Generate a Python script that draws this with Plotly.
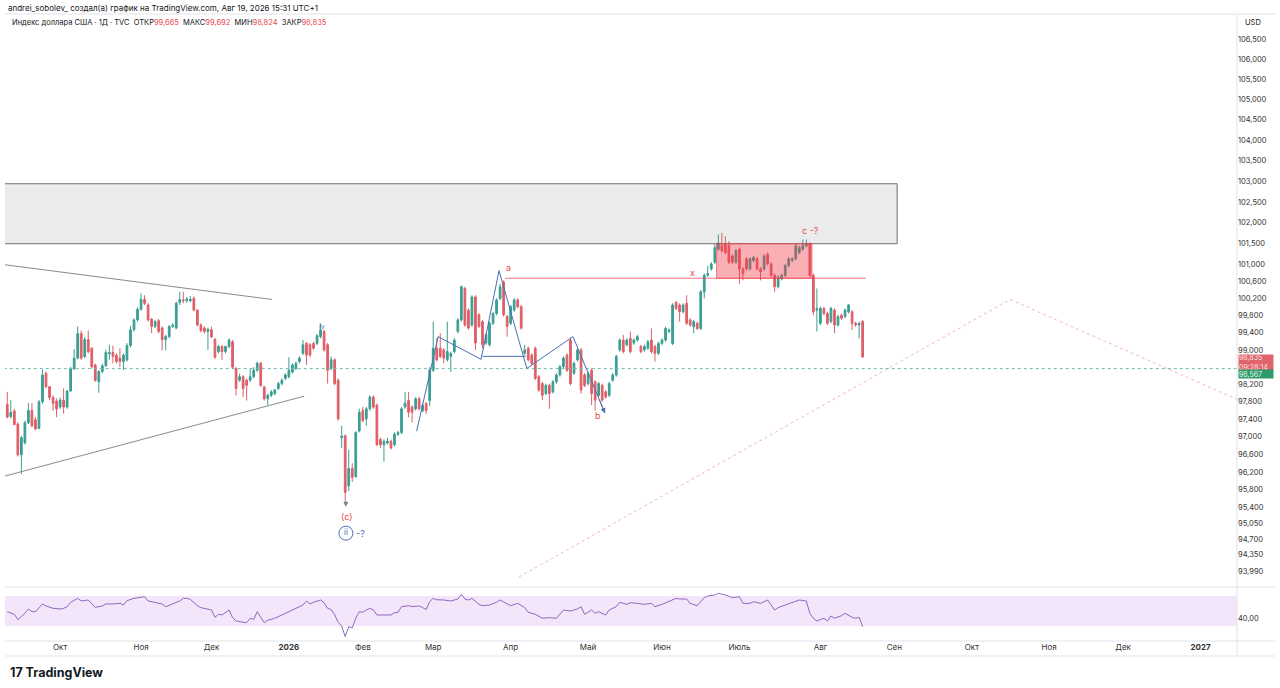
import math

import pandas as pd
import plotly.graph_objects as go

# TVC:DXY daily candles, Sep 10 2025 .. Aug 19 2026
opens = [
    97.74, 97.46, 97.59, 97.29, 96.59, 96.86, 97.32, 97.60, 97.39, 97.19,
    97.80, 98.46, 98.15, 97.90, 97.82, 97.68, 97.84, 97.68, 98.05, 98.57,
    98.81, 99.38, 98.85, 99.24, 99.04, 98.65, 98.26, 98.50, 98.63, 98.91,
    98.94, 98.88, 98.81, 98.73, 98.77, 99.10, 99.47, 99.70, 99.95, 100.18,
    100.05, 99.72, 99.55, 99.68, 99.51, 99.24, 99.31, 99.55, 99.51, 100.11,
    100.17, 100.15, 100.15, 100.21, 99.93, 99.58, 99.51, 99.43, 99.47, 99.25,
    98.96, 99.08, 98.96, 99.08, 99.19, 98.57, 98.30, 98.38, 98.30, 98.30,
    98.38, 98.53, 98.69, 98.14, 97.87, 97.95, 97.99, 98.11, 98.22, 98.34,
    98.38, 98.49, 98.57, 98.73, 98.92, 99.15, 99.12, 99.15, 99.15, 99.31,
    99.43, 99.12, 98.57, 98.77, 98.30, 96.98, 97.02, 95.89, 96.28, 96.10,
    97.13, 97.60, 97.41, 97.64, 97.91, 97.72, 96.94, 96.82, 96.86, 96.90,
    96.82, 97.06, 97.10, 97.68, 97.83, 97.68, 97.64, 97.87, 97.60, 97.76,
    97.83, 98.53, 99.04, 99.04, 99.00, 98.77, 98.85, 98.96, 99.43, 99.70,
    100.44, 99.93, 99.58, 100.24, 99.82, 99.66, 99.16, 99.12, 99.62, 99.85,
    100.20, 100.59, 99.78, 99.62, 99.93, 100.17, 100.01, 98.92, 99.04, 98.88,
    99.04, 98.38, 98.22, 97.99, 98.18, 98.03, 98.26, 98.42, 98.61, 98.88,
    99.23, 98.46, 98.77, 99.00, 98.42, 98.22, 98.53, 98.26, 97.95, 98.18,
    98.03, 97.95, 98.30, 98.42, 99.00, 99.23, 99.12, 99.27, 99.16, 99.23,
    99.08, 99.00, 99.04, 99.23, 99.08, 98.92, 99.15, 99.23, 99.43, 99.15,
    100.11, 100.05, 99.89, 100.09, 99.70, 99.54, 99.62, 99.50, 100.36, 100.75,
    100.90, 101.06, 101.37, 101.45, 101.49, 101.45, 101.21, 101.06, 101.37, 100.90,
    101.14, 100.90, 101.10, 101.14, 100.90, 100.90, 101.25, 101.02, 100.75, 100.48,
    100.67, 100.75, 100.98, 101.10, 101.14, 101.29, 101.37, 101.45, 101.49, 100.75,
    99.93, 99.62, 99.97, 99.85, 99.66, 99.93, 99.58, 99.81, 99.78, 99.89,
    99.89, 99.62, 99.58, 99.665,
]
highs = [
    98.03, 97.84, 97.64, 97.33, 97.02, 97.37, 97.77, 97.77, 97.45, 97.84,
    98.55, 98.50, 98.16, 97.95, 97.88, 97.90, 98.11, 98.07, 98.61, 99.02,
    99.55, 99.45, 99.30, 99.45, 99.06, 98.68, 98.53, 98.68, 99.00, 99.12,
    99.10, 98.92, 99.04, 98.92, 99.16, 99.55, 99.74, 99.99, 100.32, 100.28,
    100.09, 99.74, 99.70, 99.72, 99.55, 99.35, 99.58, 99.62, 100.13, 100.36,
    100.36, 100.24, 100.26, 100.25, 99.95, 99.62, 99.55, 99.52, 99.54, 99.27,
    99.12, 99.12, 99.10, 99.27, 99.23, 98.60, 98.45, 98.42, 98.34, 98.57,
    98.60, 98.73, 98.72, 98.17, 97.99, 98.07, 98.10, 98.26, 98.34, 98.46,
    98.83, 98.69, 98.73, 98.85, 99.23, 99.19, 99.16, 99.19, 99.37, 99.62,
    99.47, 99.16, 98.85, 98.81, 98.34, 97.25, 97.06, 96.71, 96.40, 97.13,
    97.64, 97.68, 97.68, 97.95, 97.95, 97.76, 96.98, 96.94, 96.98, 96.94,
    97.10, 97.14, 97.68, 98.03, 98.03, 97.72, 97.91, 97.91, 97.76, 97.80,
    98.60, 99.66, 99.27, 99.39, 99.04, 99.66, 98.96, 99.27, 99.74, 100.51,
    100.48, 99.97, 100.28, 100.28, 99.86, 99.70, 99.39, 99.66, 99.89, 100.21,
    100.55, 100.63, 99.82, 100.05, 100.21, 100.21, 100.05, 99.12, 99.08, 98.92,
    99.08, 98.42, 98.26, 98.22, 98.22, 98.30, 98.46, 98.65, 98.85, 98.92,
    99.29, 98.73, 99.04, 99.04, 98.46, 98.50, 98.57, 98.30, 98.26, 98.22,
    98.07, 98.26, 98.46, 98.89, 99.27, 99.35, 99.27, 99.43, 99.27, 99.35,
    99.12, 99.12, 99.23, 99.50, 99.12, 99.19, 99.27, 99.54, 99.50, 100.09,
    100.15, 100.09, 100.09, 100.28, 99.74, 99.70, 99.66, 100.40, 100.79, 100.98,
    101.06, 101.49, 101.72, 101.76, 101.68, 101.56, 101.25, 101.37, 101.41, 100.94,
    101.18, 101.18, 101.21, 101.18, 100.94, 101.25, 101.29, 101.06, 100.79, 100.75,
    100.79, 101.02, 101.18, 101.18, 101.49, 101.45, 101.60, 101.60, 101.53, 100.79,
    100.44, 100.01, 100.01, 99.89, 100.01, 99.97, 99.82, 99.85, 99.97, 100.07,
    99.93, 99.66, 99.66, 99.692,
]
lows = [
    97.42, 97.42, 97.26, 96.55, 96.15, 96.83, 97.29, 97.22, 97.15, 97.18,
    97.76, 98.11, 97.84, 97.60, 97.45, 97.64, 97.53, 97.64, 98.03, 98.53,
    98.78, 98.77, 98.81, 98.92, 98.57, 98.26, 98.01, 98.46, 98.61, 98.77,
    98.69, 98.69, 98.60, 98.53, 98.73, 99.06, 99.43, 99.66, 99.92, 100.05,
    99.66, 99.39, 99.51, 99.38, 98.99, 98.99, 99.27, 99.51, 99.48, 100.05,
    100.09, 100.10, 100.11, 99.90, 99.55, 99.41, 99.38, 99.00, 99.28, 98.79,
    98.92, 98.77, 98.92, 99.04, 98.55, 97.95, 98.26, 97.91, 97.83, 98.26,
    98.34, 98.49, 98.14, 97.83, 97.72, 97.91, 97.95, 98.07, 98.18, 98.30,
    98.34, 98.45, 98.53, 98.69, 98.88, 98.65, 98.84, 99.00, 99.11, 99.27,
    98.96, 98.22, 98.53, 98.18, 97.37, 96.75, 95.46, 95.77, 95.98, 96.07,
    97.10, 97.33, 97.25, 97.60, 97.64, 96.79, 96.75, 96.44, 96.82, 96.71,
    96.78, 97.02, 97.06, 97.64, 97.45, 97.33, 97.60, 97.60, 97.56, 97.52,
    97.70, 98.49, 98.73, 98.81, 98.69, 98.73, 98.49, 98.92, 99.39, 99.66,
    99.54, 99.47, 99.54, 99.00, 99.51, 99.04, 99.12, 99.08, 99.58, 99.81,
    100.16, 99.78, 99.31, 99.58, 99.89, 99.97, 99.47, 98.88, 98.73, 98.65,
    98.30, 98.03, 97.84, 97.95, 97.64, 97.99, 98.22, 98.38, 98.57, 98.49,
    98.18, 98.42, 98.73, 97.99, 98.14, 98.18, 97.72, 97.60, 97.91, 97.80,
    97.87, 97.91, 98.26, 98.38, 98.96, 98.92, 99.08, 98.92, 99.12, 99.19,
    98.92, 98.96, 99.00, 98.92, 98.73, 98.88, 99.11, 99.19, 99.39, 99.11,
    99.93, 99.66, 99.85, 99.58, 99.54, 99.39, 99.46, 99.46, 100.20, 100.71,
    100.86, 101.02, 101.33, 101.29, 101.25, 101.02, 101.02, 101.02, 100.55, 100.63,
    100.86, 100.86, 101.06, 100.86, 100.63, 100.86, 100.98, 100.71, 100.36, 100.44,
    100.63, 100.71, 100.94, 101.06, 101.10, 101.25, 101.33, 101.41, 100.71, 99.81,
    99.43, 99.58, 99.81, 99.58, 99.62, 99.39, 99.54, 99.70, 99.74, 99.85,
    99.46, 99.54, 99.27, 98.824,
]
closes = [
    97.45, 97.56, 97.28, 96.59, 96.98, 97.32, 97.60, 97.25, 97.18, 97.80,
    98.42, 98.15, 97.90, 97.76, 97.64, 97.84, 97.68, 98.05, 98.57, 98.81,
    99.38, 98.81, 99.24, 98.96, 98.61, 98.29, 98.50, 98.63, 98.94, 98.94,
    98.85, 98.73, 98.73, 98.88, 99.10, 99.47, 99.70, 99.95, 100.18, 100.09,
    99.70, 99.55, 99.66, 99.43, 99.24, 99.31, 99.55, 99.58, 100.09, 100.18,
    100.15, 100.19, 100.18, 99.93, 99.58, 99.45, 99.43, 99.48, 99.30, 98.83,
    99.08, 98.96, 99.08, 99.23, 98.60, 98.11, 98.38, 98.11, 98.18, 98.38,
    98.53, 98.69, 98.18, 97.87, 97.95, 98.03, 98.07, 98.22, 98.30, 98.42,
    98.53, 98.65, 98.69, 98.81, 99.12, 98.88, 98.88, 99.04, 99.33, 99.47,
    99.00, 98.53, 98.77, 98.22, 97.41, 97.02, 95.74, 96.28, 96.08, 97.10,
    97.56, 97.37, 97.64, 97.91, 97.68, 96.82, 96.82, 96.90, 96.90, 96.75,
    97.06, 97.10, 97.64, 97.77, 97.56, 97.56, 97.87, 97.64, 97.72, 97.60,
    98.53, 99.04, 98.77, 98.85, 98.81, 98.96, 98.92, 99.23, 99.70, 100.48,
    99.58, 99.51, 100.24, 99.16, 99.55, 99.12, 99.35, 99.62, 99.85, 100.17,
    100.48, 99.82, 99.55, 100.01, 100.17, 100.01, 99.51, 99.00, 98.77, 98.69,
    98.34, 98.07, 97.95, 98.18, 97.99, 98.26, 98.42, 98.61, 98.81, 98.53,
    98.22, 98.69, 99.00, 98.07, 98.18, 98.46, 97.99, 97.84, 98.22, 97.84,
    97.91, 98.22, 98.42, 98.85, 99.23, 98.96, 99.23, 98.96, 99.23, 99.31,
    98.96, 99.08, 99.19, 98.96, 98.92, 99.15, 99.23, 99.50, 99.46, 100.05,
    99.97, 99.89, 100.05, 99.62, 99.58, 99.66, 99.50, 100.36, 100.75, 100.79,
    101.02, 101.41, 101.52, 101.33, 101.29, 101.06, 101.06, 101.33, 100.90, 100.79,
    100.90, 101.14, 101.17, 100.90, 100.83, 101.21, 101.02, 100.75, 100.48, 100.71,
    100.75, 100.98, 101.14, 101.14, 101.45, 101.41, 101.45, 101.49, 100.75, 99.89,
    99.97, 99.97, 99.85, 99.62, 99.97, 99.58, 99.78, 99.74, 99.93, 100.05,
    99.62, 99.58, 99.62, 98.835,
]

# RSI pane, sampled where the line could be read (bar index -> value)
rsi_bars = [
    0, 2, 3, 5, 6, 7, 8, 10, 11, 13, 15, 16, 17, 18, 20, 21, 23, 24, 25, 27,
    28, 30, 32, 33, 34, 36, 38, 39, 40, 42, 43, 44, 45, 47, 49, 50, 51, 52, 54, 55,
    57, 58, 59, 60, 61, 62, 63, 64, 65, 67, 68, 69, 70, 71, 73, 74, 75, 76, 78, 79,
    80, 82, 84, 85, 86, 87, 88, 89, 90, 91, 92, 93, 94, 95, 96, 97, 98, 99, 100, 101,
    102, 103, 104, 105, 107, 109, 110, 111, 112, 114, 115, 117, 118, 119, 120, 121, 122, 124, 126, 128,
    129, 130, 131, 132, 134, 135, 137, 139, 140, 142, 143, 145, 147, 148, 150, 152, 154, 156, 157, 158,
    160, 162, 163, 164, 165, 166, 167, 168, 170, 171, 173, 174, 176, 177, 179, 181, 183, 184, 186, 188,
    190, 191, 193, 194, 196, 198, 199, 201, 202, 204, 206, 208, 209, 211, 212, 214, 216, 218, 219, 221,
    223, 225, 227, 228, 229, 230, 232, 233, 234, 235, 237, 238, 240, 241, 242, 243,
]
rsi_vals = [
    49.1, 45.6, 38.5, 46.9, 52.7, 49.1, 49.1, 59.4, 56.7, 53.6, 52.7, 53.6, 55.8, 61.6, 66.9, 63.4, 64.7, 60.2, 54.9, 56.7,
    59.4, 59.4, 60.2, 58.0, 63.8, 66.9, 68.7, 69.1, 63.4, 61.6, 60.2, 59.4, 55.8, 59.4, 63.4, 66.9, 66.9, 65.6, 57.1, 54.5,
    52.7, 51.4, 41.6, 45.6, 44.7, 47.8, 51.4, 41.2, 36.7, 35.0, 34.5, 40.3, 38.9, 49.1, 34.5, 37.6, 38.9, 40.3, 44.7, 46.9,
    49.1, 54.5, 58.0, 63.4, 59.4, 61.6, 63.4, 64.7, 61.1, 53.6, 52.0, 45.0, 35.0, 30.0, 15.8, 29.2, 27.5, 40.3, 49.1, 48.3,
    51.4, 53.6, 51.4, 44.7, 44.7, 44.7, 47.8, 48.3, 55.8, 57.1, 55.8, 56.7, 54.5, 52.0, 62.5, 66.9, 65.0, 64.7, 63.4, 66.0,
    72.2, 66.0, 64.7, 66.9, 58.9, 57.1, 58.0, 61.6, 64.7, 60.2, 57.1, 60.2, 54.5, 48.3, 45.6, 40.3, 41.2, 40.3, 45.6, 51.4,
    50.0, 52.7, 55.8, 45.6, 48.3, 51.4, 46.9, 49.1, 44.7, 51.4, 55.8, 61.6, 58.9, 61.1, 60.2, 58.9, 60.2, 55.8, 58.9, 62.5,
    66.9, 66.0, 66.0, 60.2, 57.1, 67.8, 70.0, 71.3, 73.6, 71.3, 67.8, 69.1, 60.2, 60.2, 62.5, 60.2, 64.7, 51.4, 54.5, 58.0,
    61.6, 64.7, 63.4, 46.9, 40.3, 36.7, 40.3, 36.7, 43.4, 40.3, 43.8, 46.9, 41.6, 40.3, 41.6, 29.2,
]

holidays = ["2025-12-25", "2026-01-01", "2026-12-25", "2027-01-01"]
month_starts = [
    "2025-10-01", "2025-11-01", "2025-12-01", "2026-01-01", "2026-02-01", "2026-03-01",
    "2026-04-01", "2026-05-01", "2026-06-01", "2026-07-01", "2026-08-01", "2026-09-01",
    "2026-10-01", "2026-11-01", "2026-12-01", "2027-01-01",
]
month_labels = [
    "Окт", "Ноя", "Дек", "<b>2026</b>", "Фев", "Мар", "Апр", "Май", "Июн", "Июль", "Авг",
    "Сен", "Окт", "Ноя", "Дек", "<b>2027</b>",
]
price_ticks = [
    106.5, 106.0, 105.5, 105.0, 104.5, 104.0, 103.5, 103.0, 102.5, 102.0, 101.5, 101.0,
    100.6, 100.2, 99.8, 99.4, 99.0, 98.2, 97.8, 97.4, 97.0, 96.6, 96.2, 95.8, 95.4, 95.05,
    94.7, 94.35, 93.99,
]

last_close = 98.835
prev_close = 98.567

# drawings on the chart
zone_prices = [101.5, 102.94]
zone_bars = [-2, 252.8]
box_prices = [100.68, 101.5]
box_bars = [201.5, 228.6]
x_line_bars = [141.4, 243.9]
x_line_price = 100.68
tri_top_bars = [-0.65, 75.2]
tri_top_prices = [101.0, 100.18]
tri_bot_bars = [-0.65, 84.3]
tri_bot_prices = [96.11, 97.93]
wave_bars = [116.3, 122.4, 134.6, 139.7, 147.6, 160.7, 169.8]
wave_prices = [97.13, 99.31, 98.78, 100.86, 98.57, 99.31, 97.54]
flat_bars = [135.1, 147.3]
flat_price = 98.85
proj_bars = [145.4, 284.9, 349.3]
proj_prices = [93.86, 100.18, 97.86]

UP = "#3a9e92"
DOWN = "#df5f67"
RED = "#e5484f"
BLUE = "#4a6fb5"
FONT = "Inter, Roboto, sans-serif"

days = pd.bdate_range("2025-09-10", "2027-01-29")
days = days[~days.isin(pd.to_datetime(holidays))]
bars = list(range(len(closes)))
month_pos = [int(days.searchsorted(pd.Timestamp(d))) for d in month_starts]

fig = go.Figure()

# supply zone (translucent so the wicks stay visible under it)
fig.add_trace(go.Scatter(
    x=[zone_bars[0], zone_bars[1], zone_bars[1], zone_bars[0], zone_bars[0]],
    y=[zone_prices[0], zone_prices[0], zone_prices[1], zone_prices[1], zone_prices[0]],
    mode="lines", fill="toself", fillcolor="rgba(120,120,120,0.15)",
    line={"color": "#6f6f6f", "width": 1}, hoverinfo="skip",
))

# triangle
for xs, ys in [(tri_top_bars, tri_top_prices), (tri_bot_bars, tri_bot_prices)]:
    fig.add_trace(go.Scatter(x=xs, y=ys, mode="lines",
                             line={"color": "#8a8a8a", "width": 1}, hoverinfo="skip"))

# last-price line
fig.add_trace(go.Scatter(
    x=[-1, 350], y=[prev_close, prev_close], mode="lines",
    line={"color": "#6dbdb0", "width": 1, "dash": "3px,3px"}, hoverinfo="skip",
))

# projection
fig.add_trace(go.Scatter(
    x=proj_bars, y=proj_prices, mode="lines",
    line={"color": "rgba(229,72,79,0.4)", "width": 1, "dash": "dot"}, hoverinfo="skip",
))

fig.add_trace(go.Candlestick(
    x=bars, open=opens, high=highs, low=lows, close=closes,
    increasing={"line": {"color": UP, "width": 1}, "fillcolor": UP},
    decreasing={"line": {"color": DOWN, "width": 1}, "fillcolor": DOWN},
    hoverinfo="skip",
))

# red box and x-line
fig.add_trace(go.Scatter(
    x=[box_bars[0], box_bars[1], box_bars[1], box_bars[0], box_bars[0]],
    y=[box_prices[0], box_prices[0], box_prices[1], box_prices[1], box_prices[0]],
    mode="lines", fill="toself", fillcolor="rgba(242,54,69,0.4)",
    line={"color": "rgba(242,54,69,0.6)", "width": 1}, hoverinfo="skip",
))
fig.add_trace(go.Scatter(
    x=x_line_bars, y=[x_line_price, x_line_price], mode="lines",
    line={"color": "rgba(229,72,79,0.75)", "width": 1}, hoverinfo="skip",
))

# wave drawing
fig.add_trace(go.Scatter(x=wave_bars, y=wave_prices, mode="lines",
                         line={"color": BLUE, "width": 1}, hoverinfo="skip"))
fig.add_trace(go.Scatter(x=flat_bars, y=[flat_price, flat_price], mode="lines",
                         line={"color": BLUE, "width": 1}, hoverinfo="skip"))

# circled "ii"
fig.add_trace(go.Scatter(
    x=[96.2], y=[94.83], mode="markers+text", text=["ii"], textposition="middle center",
    textfont={"color": BLUE, "size": 8, "family": FONT},
    marker={"symbol": "circle-open", "size": 14, "color": BLUE, "line": {"width": 1}},
    hoverinfo="skip",
))

# RSI band + line
fig.add_trace(go.Scatter(
    x=[-1, 350, 350, -1, -1], y=[30, 30, 70, 70, 30], mode="lines", fill="toself",
    fillcolor="#f3e6fb", line={"width": 0}, yaxis="y2", hoverinfo="skip",
))
fig.add_trace(go.Scatter(
    x=rsi_bars, y=rsi_vals, mode="lines", line={"color": "#9267bd", "width": 1},
    yaxis="y2", hoverinfo="skip",
))

labels = [
    ("a", 142.5, 100.93, RED, 9),
    ("x", 194.8, 100.82, RED, 9),
    ("c -?", 228.3, 101.81, RED, 9),
    ("b", 167.8, 97.49, RED, 9),
    ("(c)", 96.5, 95.21, RED, 9),
    ("-?", 100.3, 94.83, BLUE, 9),
    ("iv", 89.4, 99.55, BLUE, 7),
]
annotations = [
    dict(x=bx, y=math.log10(p), xref="x", yref="y", text=t, showarrow=False,
         font={"color": c, "size": s, "family": FONT})
    for t, bx, p, c, s in labels
]
# arrow heads: end of the wave drawing and under the (c) low
annotations += [
    dict(x=wave_bars[-1], y=math.log10(wave_prices[-1]), xref="x", yref="y",
         ax=wave_bars[-2] + 0.8 * (wave_bars[-1] - wave_bars[-2]),
         ay=math.log10(wave_prices[-2] + 0.8 * (wave_prices[-1] - wave_prices[-2])),
         axref="x", ayref="y", text="", showarrow=True, arrowhead=2, arrowsize=1,
         arrowwidth=1, arrowcolor=BLUE),
    dict(x=96.2, y=math.log10(95.42), xref="x", yref="y", ax=96.2, ay=math.log10(95.5),
         axref="x", ayref="y", text="", showarrow=True, arrowhead=2, arrowsize=1,
         arrowwidth=1, arrowcolor="#7a7f8e"),
]

PH = 627.0  # plot height in px (t=14, b=47)


def py(pix):
    return (641 - pix) / PH


def px(pix):
    return (pix - 5) / 1232.0


def num(v):
    return f"{v:.3f}".replace(".", ",")


def note(x, y, text, size, color="#131722", **kw):
    return dict(x=px(x), y=py(y), xref="paper", yref="paper", xanchor="left",
                yanchor="middle", showarrow=False, text=text,
                font={"size": size, "color": color, "family": FONT}, **kw)


annotations += [
    note(6, 8, "andrei_sobolev_ создал(а) график на TradingView.com, Авг 19, 2026 15:31 UTC+1", 8),
    note(10, 22, "Индекс доллара США · 1Д · TVC  ОТКР<span style='color:#e5484f'>99,665</span>"
                 "  МАКС<span style='color:#e5484f'>99,692</span>"
                 "  МИН<span style='color:#e5484f'>98,824</span>"
                 "  ЗАКР<span style='color:#e5484f'>98,835</span>", 7.5),
    note(1243, 22, "USD", 7.5),
    note(1238, 362, f"{num(last_close)}<br>09:28:14", 7, "#fbe3e4",
         bgcolor="#e0646b", borderpad=0, width=34, height=15, align="left"),
    note(1238, 374, num(prev_close), 7, "#e8f5ef",
         bgcolor="#2f9a6a", borderpad=0, width=34, height=8, align="left"),
    note(8, 672, "<b>17 TradingView</b>", 12.5),
]

sep = "#e0e3eb"
shapes = [
    dict(type="line", xref="paper", yref="paper", x0=0, x1=px(1275), y0=py(587), y1=py(587),
         line={"color": sep, "width": 1}),
    dict(type="line", xref="paper", yref="paper", x0=0, x1=px(1275), y0=py(641), y1=py(641),
         line={"color": sep, "width": 1}),
    dict(type="line", xref="paper", yref="paper", x0=0, x1=px(1275), y0=py(656), y1=py(656),
         line={"color": sep, "width": 1}),
    dict(type="line", xref="paper", yref="paper", x0=0, x1=px(1275), y0=py(14), y1=py(14),
         line={"color": sep, "width": 1}),
    dict(type="line", xref="paper", yref="paper", x0=1, x1=1, y0=py(656), y1=py(14),
         line={"color": sep, "width": 1}),
]

fig.update_layout(
    width=1280, height=688,
    margin={"l": 5, "r": 43, "t": 14, "b": 47},
    paper_bgcolor="white", plot_bgcolor="white",
    showlegend=False,
    font={"family": FONT, "size": 8, "color": "#131722"},
    xaxis={
        "range": [-0.65, 349.35], "anchor": "y2", "domain": [0, 1],
        "tickmode": "array", "tickvals": month_pos, "ticktext": month_labels,
        "showgrid": False, "zeroline": False, "showline": False, "ticks": "",
        "tickfont": {"size": 8, "color": "#333"}, "rangeslider": {"visible": False},
    },
    yaxis={
        "type": "log", "range": [1.971583, 2.029896], "domain": [py(587) + 0.002, 1],
        "side": "right", "anchor": "x", "tickmode": "array", "tickvals": price_ticks,
        "ticktext": [num(v) for v in price_ticks], "showgrid": False, "zeroline": False,
        "ticks": "", "tickfont": {"size": 7.5, "color": "#333"},
    },
    yaxis2={
        "range": [10, 80.7], "domain": [0, py(588)], "side": "right", "anchor": "x",
        "tickmode": "array", "tickvals": [40], "ticktext": ["40,00"], "showgrid": False,
        "zeroline": False, "ticks": "", "tickfont": {"size": 7.5, "color": "#333"},
    },
    annotations=annotations,
    shapes=shapes,
)

fig.write_html("out.html", config={"displayModeBar": False},
               post_script="document.body.style.margin='0';")
